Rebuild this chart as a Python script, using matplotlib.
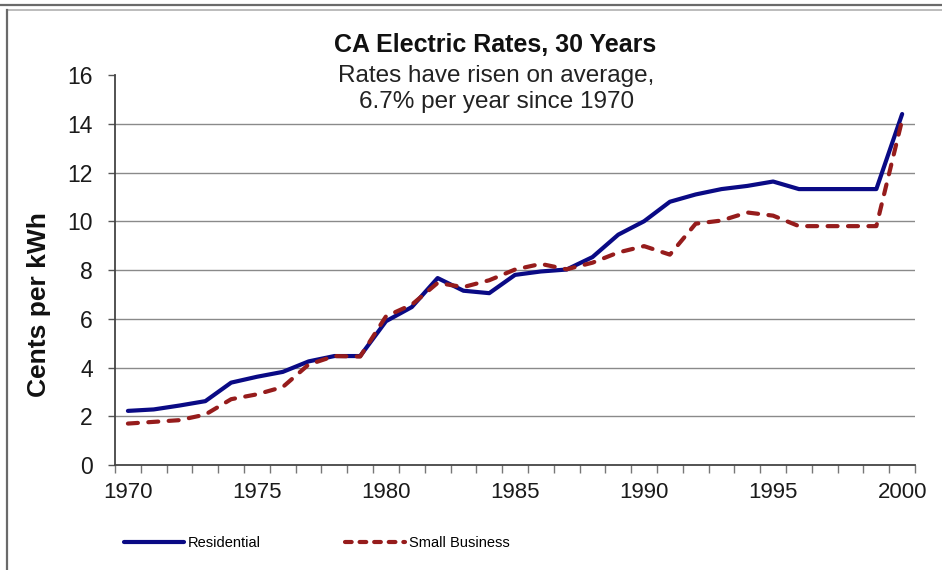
#!/usr/bin/env python3
# CA electric rates 1970-2000, residential vs small business
import matplotlib
matplotlib.use('Agg')
import matplotlib.pyplot as plt
from matplotlib.lines import Line2D

years = list(range(1970, 2001))
residential = [2.22, 2.28, 2.44, 2.62, 3.38, 3.62, 3.82, 4.25, 4.47, 4.47,
               5.9, 6.48, 7.67, 7.15, 7.05, 7.8, 7.94, 8.02, 8.53, 9.45,
               10.0, 10.8, 11.1, 11.32, 11.45, 11.63, 11.32, 11.32, 11.32, 11.32,
               14.4]
small_business = [1.7, 1.77, 1.84, 2.07, 2.7, 2.9, 3.2, 4.12, 4.47, 4.45,
                  6.1, 6.58, 7.47, 7.3, 7.58, 8.02, 8.25, 8.03, 8.3, 8.72,
                  8.98, 8.63, 9.9, 10.03, 10.36, 10.23, 9.8, 9.8, 9.8, 9.8,
                  14.16]
yticks = [0, 2, 4, 6, 8, 10, 12, 14, 16]
xlabel_years = [1970, 1975, 1980, 1985, 1990, 1995, 2000]

plt.rcParams['font.family'] = ['Liberation Sans', 'DejaVu Sans']

fig = plt.figure(figsize=(9.42, 5.70), dpi=100)
ax = fig.add_axes([0.1221, 0.1842, 0.8493, 0.6842])

# category axis: points sit in the middle of each year slot
xs = list(range(len(years)))
ax.plot(xs, residential, color='#0a0a85', lw=3.0, solid_joinstyle='round',
        solid_capstyle='round', zorder=3, label='Residential')
ax.plot(xs, small_business, color='#961c1c', lw=3.0, linestyle=(0, (2.4, 2.5)),
        dash_capstyle='round', zorder=3, label='Small Business')

ax.set_xlim(-0.5, len(years) - 0.5)
ax.set_ylim(0, 16)

# gridlines, none along the top edge
for y in yticks[1:-1]:
    ax.axhline(y, color='#8a8a8a', lw=1.0, zorder=1)

ax.set_yticks(yticks)
ax.set_yticklabels([str(v) for v in yticks], fontsize=16.5, color='#1a1a1a')
ax.set_xticks([i + 0.5 for i in range(-1, len(years))], minor=True)
ax.set_xticks([years.index(y) for y in xlabel_years])
ax.set_xticklabels([str(y) for y in xlabel_years], fontsize=16, color='#1a1a1a')
ax.tick_params(axis='x', which='major', length=0, pad=12)
ax.tick_params(axis='x', which='minor', length=6, width=1.0, color='#777777')
ax.tick_params(axis='y', length=5, width=1.0, color='#555555', pad=11)

for s in ['top', 'right']:
    ax.spines[s].set_visible(False)
for s in ['left', 'bottom']:
    ax.spines[s].set_color('#444444')
    ax.spines[s].set_linewidth(1.3)

# titles
fig.text(0.526, 0.921, 'CA Electric Rates, 30 Years', ha='center', va='center',
         fontsize=18, fontweight='bold', color='#111111')
fig.text(0.527, 0.866, 'Rates have risen on average,', ha='center', va='center',
         fontsize=17.5, color='#222222')
fig.text(0.527, 0.821, '6.7% per year since 1970', ha='center', va='center',
         fontsize=17.5, color='#222222')
fig.text(0.041, 0.466, 'Cents per kWh', ha='center', va='center', rotation=90,
         fontsize=19, fontweight='bold', color='#111111')

# legend below the axis
handles = [Line2D([0], [0], color='#0a0a85', lw=3.0, solid_capstyle='round'),
           Line2D([0], [0], color='#961c1c', lw=3.0, linestyle=(0, (1.6, 1.9)),
                  dash_capstyle='round')]
fig.legend(handles, ['Residential', 'Small Business'], loc='center left',
           bbox_to_anchor=(0.118, 0.047), ncol=2, frameon=False, fontsize=10.5,
           handlelength=4.1, handletextpad=0.25, columnspacing=5.8)

# outer frame lines
fig.add_artist(Line2D([0, 1], [0.992, 0.992], color='#6a6a6a', lw=1.6,
                      transform=fig.transFigure))
fig.add_artist(Line2D([0.007, 1], [0.9825, 0.9825], color='#b0b0b0', lw=1.2,
                      transform=fig.transFigure))
fig.add_artist(Line2D([0.007, 0.007], [0, 0.9825], color='#6a6a6a', lw=1.6,
                      transform=fig.transFigure))

fig.savefig('out.png', dpi=100)
